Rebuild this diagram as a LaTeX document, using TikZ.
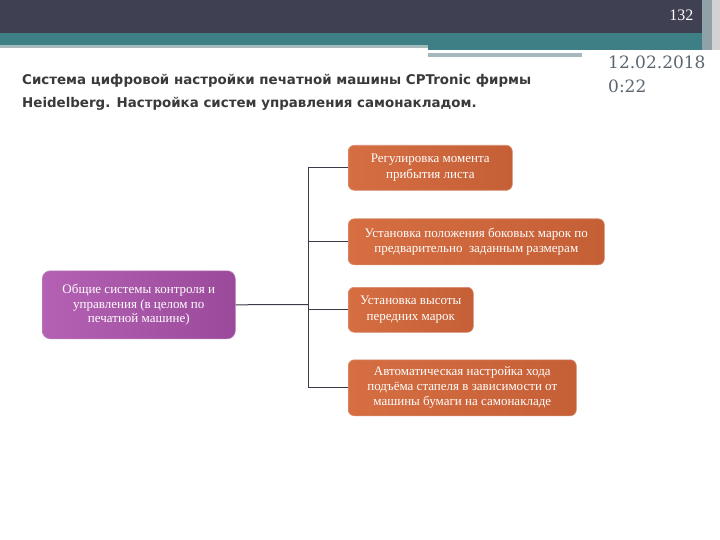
\documentclass[tikz,border=0pt]{standalone}
\usepackage{fontspec}
\setmainfont{Liberation Serif}
\newfontfamily\titlefont{DejaVu Sans}
\newfontfamily\datefont{DejaVu Serif}
\usetikzlibrary{positioning}
\definecolor{darkbar}{HTML}{3F4052}
\definecolor{tealbar}{HTML}{3E7F86}
\definecolor{graybar}{HTML}{A5B9BD}
\definecolor{orangeL}{HTML}{D66E42}
\definecolor{orangeR}{HTML}{C55F36}
\definecolor{purpleL}{HTML}{B461B3}
\definecolor{purpleR}{HTML}{9B4A9B}
\definecolor{titlegray}{HTML}{3A3A3A}
\definecolor{dategray}{HTML}{5C6670}
\definecolor{linecol}{HTML}{3A3A48}
\tikzset{
  orangebox/.style={rectangle, rounded corners=6pt, left color=orangeL, right color=orangeR,
    draw=orangeR!70!white, line width=0.6pt, text=white, font=\fontsize{13}{15.5}\selectfont,
    align=center, inner sep=0pt, anchor=north west},
  purplebox/.style={rectangle, rounded corners=8pt, left color=purpleL, right color=purpleR,
    draw=purpleR!70!white, line width=0.6pt, text=white, font=\fontsize{13}{14.5}\selectfont,
    align=center, inner sep=0pt, anchor=north west},
  conn/.style={draw=linecol, line width=1pt}
}
\begin{document}
\begin{tikzpicture}[x=1pt,y=-1pt]
\useasboundingbox (0,0) rectangle (720,540);
\fill[white] (0,0) rectangle (720,540);
% header bars
\fill[darkbar] (0,0) rectangle (705,33);
\fill[tealbar] (0,33) rectangle (705,45);
\fill[graybar] (0,45) rectangle (428,48);
\fill[tealbar] (428,45) rectangle (705,50);
\fill[white] (428,50) rectangle (665,53);
\fill[graybar] (428,53) rectangle (582,57);
\fill[graybar!80!darkbar] (702,0) rectangle (712,50);
\fill[gray!35] (712,0) rectangle (720,50);
\node[text=white, font=\fontsize{16}{16}\selectfont, anchor=east] (pnum) at (697,15) {132};
% title
\node[anchor=north west, text=titlegray, align=left, font=\titlefont\bfseries\fontsize{13.4}{23}\selectfont, inner sep=0pt] (title) at (22,74)
  {Система цифровой настройки печатной машины CPTronic фирмы\\Heidelberg. Настройка систем управления самонакладом.};
% date
\node[anchor=north west, text=dategray, align=left, font=\datefont\fontsize{17}{24}\selectfont, inner sep=0pt] (date) at (608,56)
  {12.02.2018\\0:22};
% nodes
\node[purplebox, minimum width=193pt, minimum height=68pt] (main) at (42,270.5)
  {Общие системы контроля и\\управления (в целом по\\печатной машине)};
\node[orangebox, minimum width=164pt, minimum height=45pt] (o1) at (348,145)
  {Регулировка момента\\прибытия листа};
\node[orangebox, minimum width=256pt, minimum height=46pt] (o2) at (348,218.5)
  {Установка положения боковых марок по\\предварительно \ заданным размерам};
\node[orangebox, minimum width=125pt, minimum height=45pt] (o3) at (348,287)
  {Установка высоты\\передних марок};
\node[orangebox, minimum width=228pt, minimum height=56pt, font=\fontsize{13}{15}\selectfont] (o4) at (348,359.5)
  {Автоматическая настройка хода\\подъёма стапеля в зависимости от\\машины бумаги на самонакладе};
% connectors
\coordinate (trunk) at (308.5,304.5);
\draw[conn] (main.east) -- (trunk);
\draw[conn] (trunk) |- (o1.west);
\draw[conn] (trunk) |- (o2.west);
\draw[conn] (trunk) |- (o3.west);
\draw[conn] (trunk) |- (o4.west);
\end{tikzpicture}
\end{document}
